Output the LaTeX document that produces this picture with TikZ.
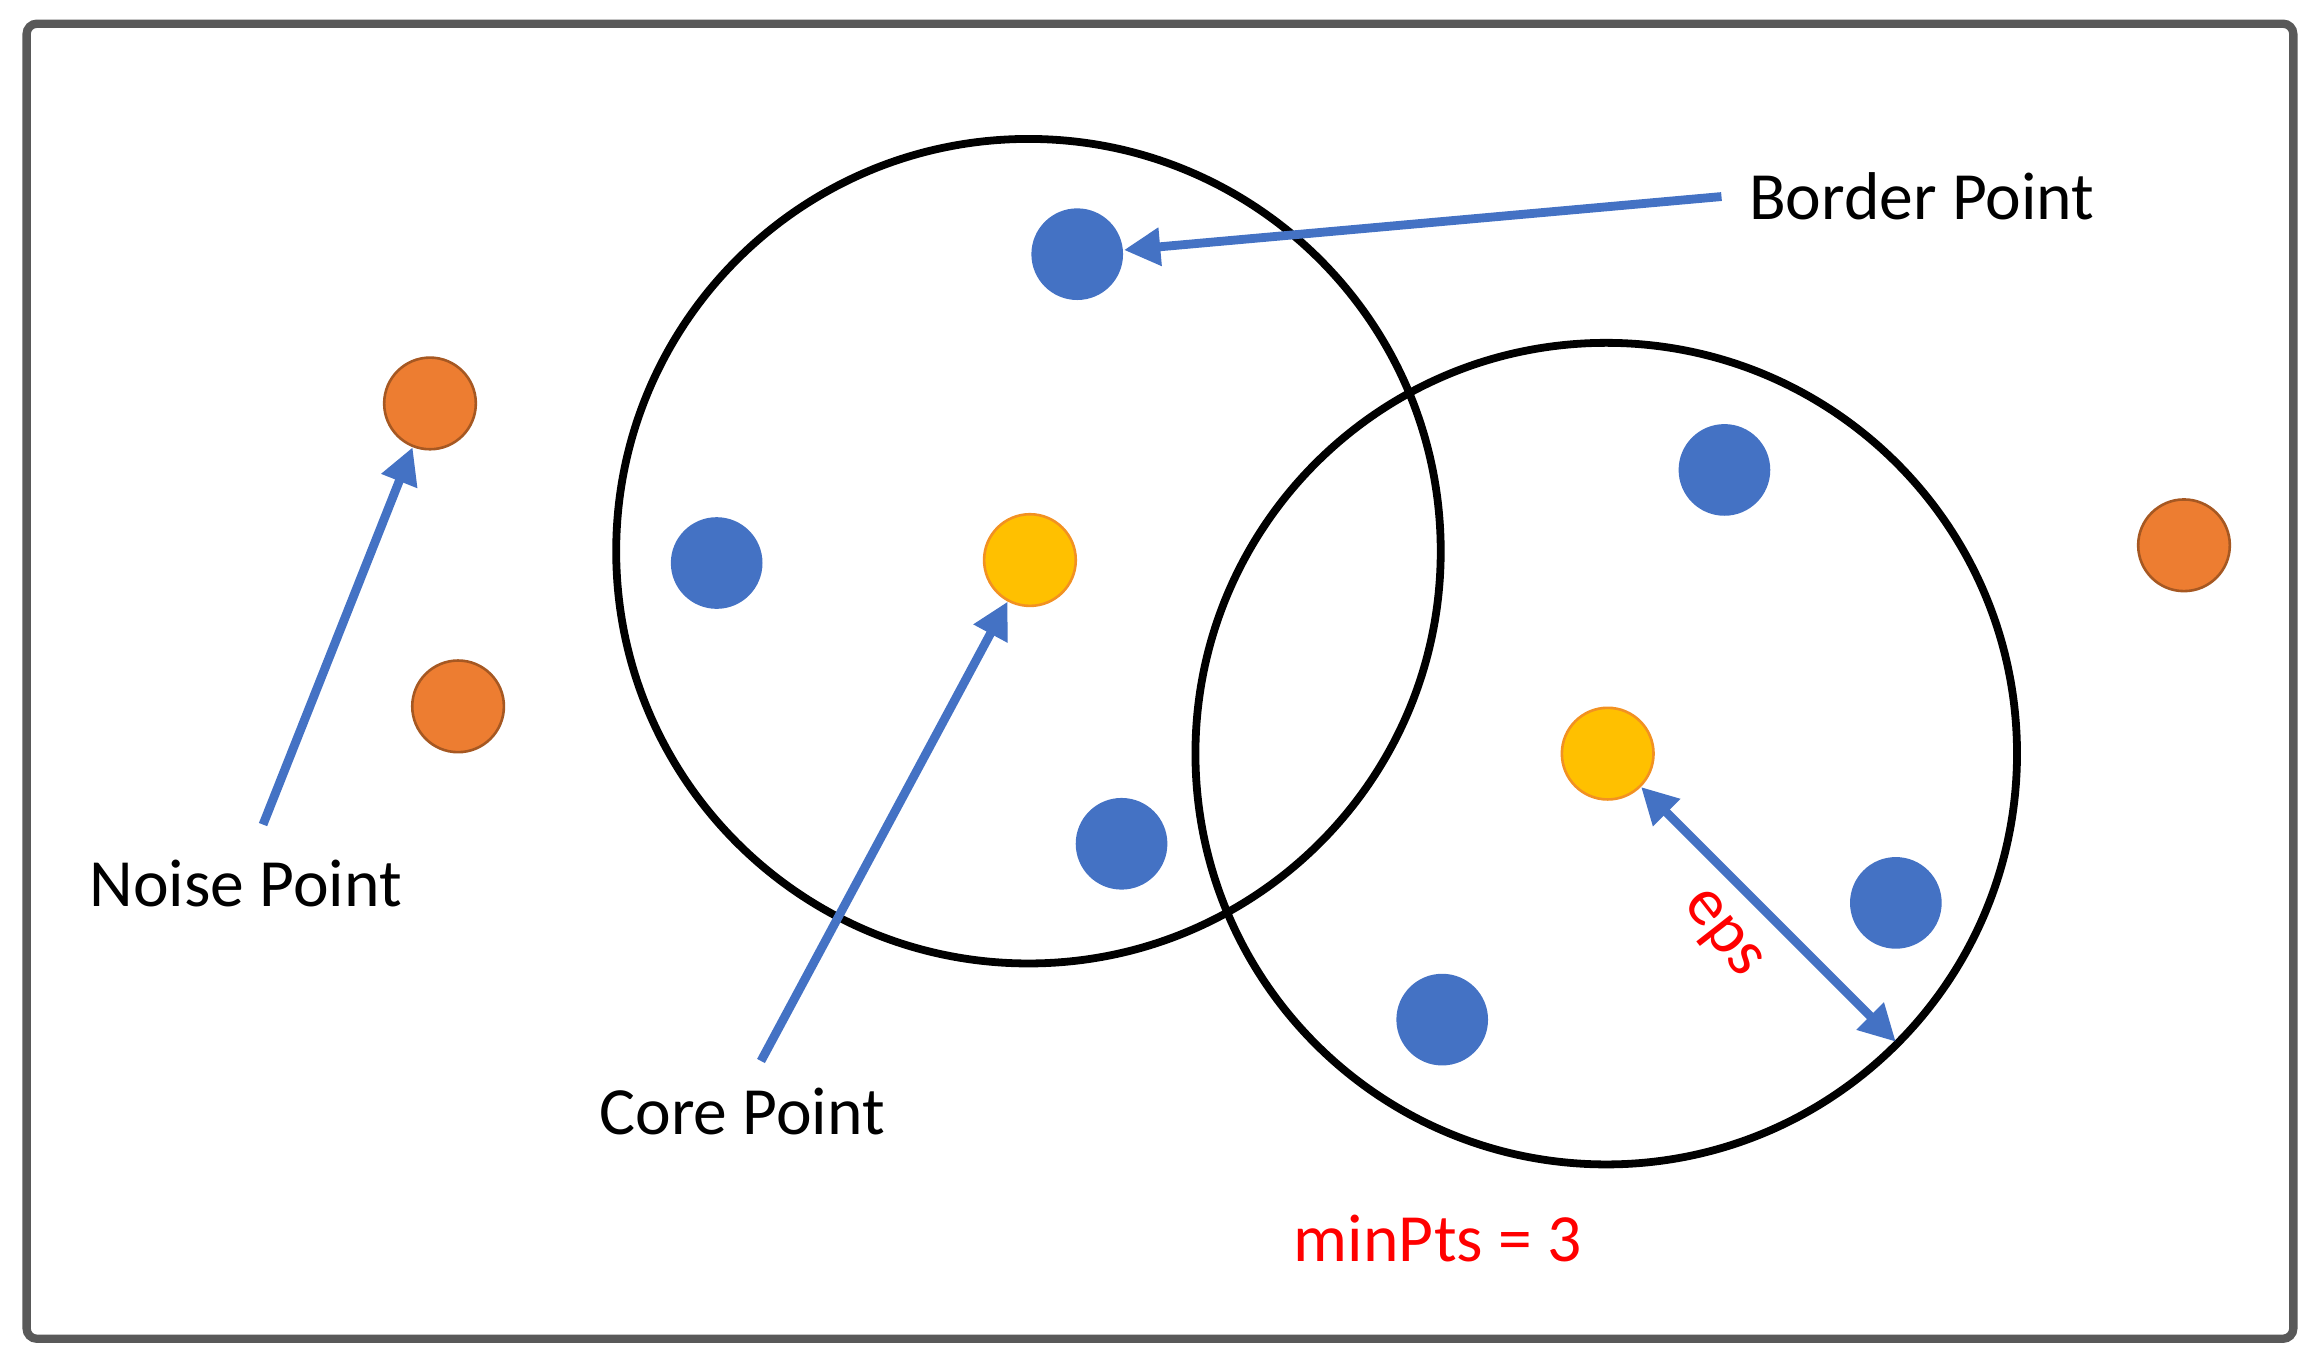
\documentclass[tikz,border=0pt]{standalone}
\usepackage{fontspec}
\setmainfont{Carlito}
\usetikzlibrary{arrows.meta}
\definecolor{bl}{HTML}{4472C4}
\definecolor{og}{HTML}{ED7D31}
\definecolor{yl}{HTML}{FFC000}
\begin{document}
\begin{tikzpicture}[x=0.01cm,y=-0.01cm,
  pt/.style={circle,minimum size=0.62cm,inner sep=0pt},
  blue pt/.style={pt,fill=bl},
  core pt/.style={pt,fill=yl,draw=og!70!yl,line width=0.5pt},
  noise pt/.style={pt,fill=og,draw=og!70!black,line width=0.5pt},
  arr/.style={bl,line width=1.7pt,-{Triangle[length=7pt,width=7pt]}},
  lbl/.style={font=\fontsize{13pt}{15pt}\selectfont,anchor=west,inner sep=0pt},
  ring/.style={line width=1.5pt}]
\useasboundingbox (0,0) rectangle (1568,923);
\draw[line width=1.6pt,color=black!65,rounded corners=2pt] (18,16) rectangle (1552,906);
\draw[ring] (696,373) circle (279);
\draw[ring] (1087,510) circle (278);
\node[blue pt] (b1) at (729,172) {};
\node[blue pt] (b2) at (485,381) {};
\node[blue pt] (b3) at (759,571) {};
\node[blue pt] (b4) at (1167,318) {};
\node[blue pt] (b5) at (1283,611) {};
\node[blue pt] (b6) at (976,690) {};
\node[core pt] (c1) at (697,379) {};
\node[core pt] (c2) at (1088,510) {};
\node[noise pt] (n1) at (291,273) {};
\node[noise pt] (n2) at (310,478) {};
\node[noise pt] (n3) at (1478,369) {};
\node[lbl] (tb) at (1183,133) {Border Point};
\node[lbl] (tn) at (60,598) {Noise Point};
\node[lbl] (tc) at (405,752) {Core Point};
\node[lbl,text=red,anchor=center] (tm) at (973,838) {minPts = 3};
\coordinate (sb) at (1165,133);
\coordinate (sn) at (178,558);
\coordinate (sc) at (515,718);
\coordinate (ee) at (1283,705);
\draw[arr] (sb) -- (b1);
\draw[arr] (sn) -- (n1);
\draw[arr] (sc) -- (c1);
\draw[arr,{Triangle[length=7pt,width=7pt]}-{Triangle[length=7pt,width=7pt]}] (c2) -- (ee);
\node[lbl,text=red,anchor=center,rotate=-52] (te) at (1164,633) {eps};
\end{tikzpicture}
\end{document}
